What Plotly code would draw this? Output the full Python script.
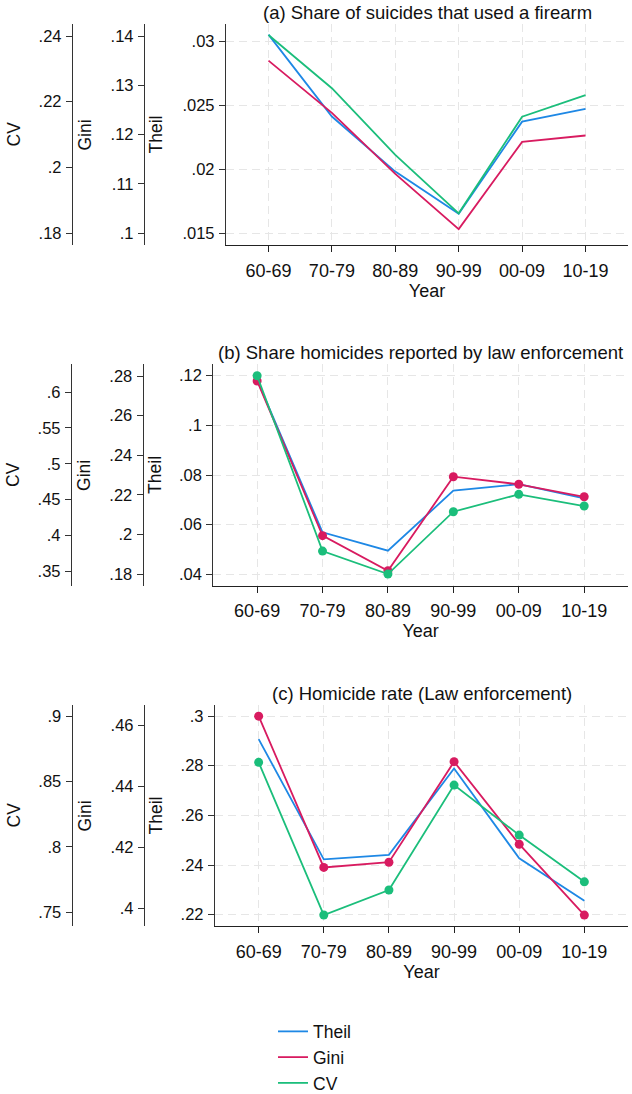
import plotly.graph_objects as go

# ---------------- data ----------------
decades = ["60-69", "70-79", "80-89", "90-99", "00-09", "10-19"]

# (a) Share of suicides that used a firearm
a_theil = [0.0305, 0.0241, 0.0198, 0.0165, 0.0237, 0.0247]
a_gini = [0.1350, 0.1244, 0.1120, 0.1008, 0.1185, 0.1198]
a_cv = [0.2403, 0.2241, 0.2038, 0.1860, 0.2154, 0.2220]

# (b) Share homicides reported by law enforcement
b_theil = [0.1183, 0.0569, 0.0495, 0.0737, 0.0763, 0.0706]
b_gini = [0.2775, 0.1995, 0.1818, 0.2292, 0.2254, 0.2191]
b_cv = [0.6227, 0.3782, 0.3462, 0.4331, 0.4573, 0.4410]

# (c) Homicide rate (Law enforcement)
c_theil = [0.2907, 0.2423, 0.2441, 0.2789, 0.2427, 0.2256]
c_gini = [0.4630, 0.4135, 0.4152, 0.4481, 0.4211, 0.3979]
c_cv = [0.8646, 0.7479, 0.7670, 0.8472, 0.8090, 0.7733]

titles = ["(a) Share of suicides that used a firearm",
          "(b) Share homicides reported by law enforcement",
          "(c) Homicide rate (Law enforcement)"]

a_theil_ticks = [0.015, 0.02, 0.025, 0.03]
a_theil_labels = [".015", ".02", ".025", ".03"]
a_gini_ticks = [0.10, 0.11, 0.12, 0.13, 0.14]
a_gini_labels = [".1", ".11", ".12", ".13", ".14"]
a_cv_ticks = [0.18, 0.20, 0.22, 0.24]
a_cv_labels = [".18", ".2", ".22", ".24"]

b_theil_ticks = [0.04, 0.06, 0.08, 0.10, 0.12]
b_theil_labels = [".04", ".06", ".08", ".1", ".12"]
b_gini_ticks = [0.18, 0.20, 0.22, 0.24, 0.26, 0.28]
b_gini_labels = [".18", ".2", ".22", ".24", ".26", ".28"]
b_cv_ticks = [0.35, 0.40, 0.45, 0.50, 0.55, 0.60]
b_cv_labels = [".35", ".4", ".45", ".5", ".55", ".6"]

c_theil_ticks = [0.22, 0.24, 0.26, 0.28, 0.30]
c_theil_labels = [".22", ".24", ".26", ".28", ".3"]
c_gini_ticks = [0.40, 0.42, 0.44, 0.46]
c_gini_labels = [".4", ".42", ".44", ".46"]
c_cv_ticks = [0.75, 0.80, 0.85, 0.90]
c_cv_labels = [".75", ".8", ".85", ".9"]

series_names = ["Theil", "Gini", "CV"]
colors = {"Theil": "#1E88E5", "Gini": "#D81B60", "CV": "#1BBE7B"}

# ---------------- layout geometry (pixels) ----------------
W, H = 632, 1094
FONT = "Arial, Liberation Sans, sans-serif"


def px(x):
    return x / W


def py(y):
    return 1 - y / H


panels = [
    dict(title=titles[0], data=[a_theil, a_gini, a_cv], markers=False,
         top=24, bottom=245, xs=[226, 144, 72], right=628,
         ranges=[[0.014063, 0.031328], [0.097563, 0.142437], [0.176345, 0.243655]],
         ticks=[(a_theil_ticks, a_theil_labels), (a_gini_ticks, a_gini_labels), (a_cv_ticks, a_cv_labels)]),
    dict(title=titles[1], data=[b_theil, b_gini, b_cv], markers=True,
         top=364.3, bottom=585.5, xs=[213.3, 142.7, 71], right=628,
         ranges=[[0.035489, 0.124591], [0.17435, 0.2859], [0.33020, 0.63863]],
         ticks=[(b_theil_ticks, b_theil_labels), (b_gini_ticks, b_gini_labels), (b_cv_ticks, b_cv_labels)]),
    dict(title=titles[2], data=[c_theil, c_gini, c_cv], markers=True,
         top=705, bottom=926, xs=[215, 144, 71.7], right=628,
         ranges=[[0.21545, 0.30443], [0.39434, 0.46664], [0.73953, 0.90841]],
         ticks=[(c_theil_ticks, c_theil_labels), (c_gini_ticks, c_gini_labels), (c_cv_ticks, c_cv_labels)]),
]

title_x_px = {"Theil": 155, "Gini": 84, "CV": 13}

fig = go.Figure()
layout = dict(
    width=W, height=H,
    margin=dict(l=0, r=0, t=0, b=0, autoexpand=False),
    paper_bgcolor="white", plot_bgcolor="white",
    font=dict(family=FONT, color="#111111"),
    showlegend=True,
    legend=dict(x=px(273), y=py(1013.5), xanchor="left", yanchor="top",
                font=dict(size=17.5, family=FONT, color="#111111"),
                bgcolor="rgba(0,0,0,0)", tracegroupgap=0),
)
annotations = []

for i, p in enumerate(panels):
    xid = "x" if i == 0 else f"x{i + 1}"
    xkey = "xaxis" if i == 0 else f"xaxis{i + 1}"
    ynums = [3 * i + 1, 3 * i + 2, 3 * i + 3]
    yids = ["y" if n == 1 else f"y{n}" for n in ynums]
    ykeys = ["yaxis" if n == 1 else f"yaxis{n}" for n in ynums]
    dom_y = [py(p["bottom"]), py(p["top"])]

    layout[xkey] = dict(
        domain=[px(p["xs"][0]), px(p["right"])], anchor=yids[0],
        type="category", categoryorder="array", categoryarray=decades,
        range=[-0.67, 5.67],
        showline=True, linecolor="#222222", linewidth=1.3,
        ticks="outside", ticklen=6, tickwidth=1.2, tickcolor="#222222",
        tickfont=dict(size=18, family=FONT, color="#111111"),
        ticklabelstandoff=3,
        showgrid=True, gridcolor="#e6e6e6", gridwidth=1, griddash="8px,5px",
        zeroline=False,
        title=dict(text="Year", font=dict(size=18, family=FONT, color="#111111"), standoff=2),
    )

    for k in range(3):
        name = series_names[k]
        ax = dict(
            range=p["ranges"][k],
            showline=True, linecolor="#333333", linewidth=1.3,
            ticks="outside", ticklen=6, tickwidth=1.2, tickcolor="#333333",
            tickvals=p["ticks"][k][0], ticktext=p["ticks"][k][1],
            tickfont=dict(size=16.5, family=FONT, color="#111111"),
            ticklabelstandoff=1,
            zeroline=False, side="left",
        )
        if k == 0:
            ax.update(domain=dom_y, anchor=xid, showgrid=True,
                      gridcolor="#e6e6e6", gridwidth=1, griddash="8px,5px")
        else:
            ax.update(overlaying=yids[0], anchor="free",
                      position=px(p["xs"][k]), showgrid=False)
        layout[ykeys[k]] = ax

        mode = "lines+markers" if (p["markers"] and name != "Theil") else "lines"
        fig.add_trace(go.Scatter(
            x=decades, y=p["data"][k], name=name, mode=mode,
            xaxis=xid, yaxis=yids[k],
            line=dict(color=colors[name], width=1.8),
            marker=dict(size=9, color=colors[name]),
            showlegend=(i == 0), legendgroup=name,
            hoverinfo="x+y+name",
        ))

        annotations.append(dict(
            text=name, x=px(title_x_px[name]), y=(dom_y[0] + dom_y[1]) / 2,
            xref="paper", yref="paper", xanchor="center", yanchor="middle",
            textangle=-90, showarrow=False,
            font=dict(size=17.5, family=FONT, color="#111111"),
        ))

    annotations.append(dict(
        text=p["title"], x=px((p["xs"][0] + p["right"]) / 2), y=py(p["top"] - 12),
        xref="paper", yref="paper", xanchor="center", yanchor="middle",
        showarrow=False, font=dict(size=18.5, family=FONT, color="#111111"),
    ))

layout["annotations"] = annotations
fig.update_layout(**layout)
fig.write_html("out.html")
